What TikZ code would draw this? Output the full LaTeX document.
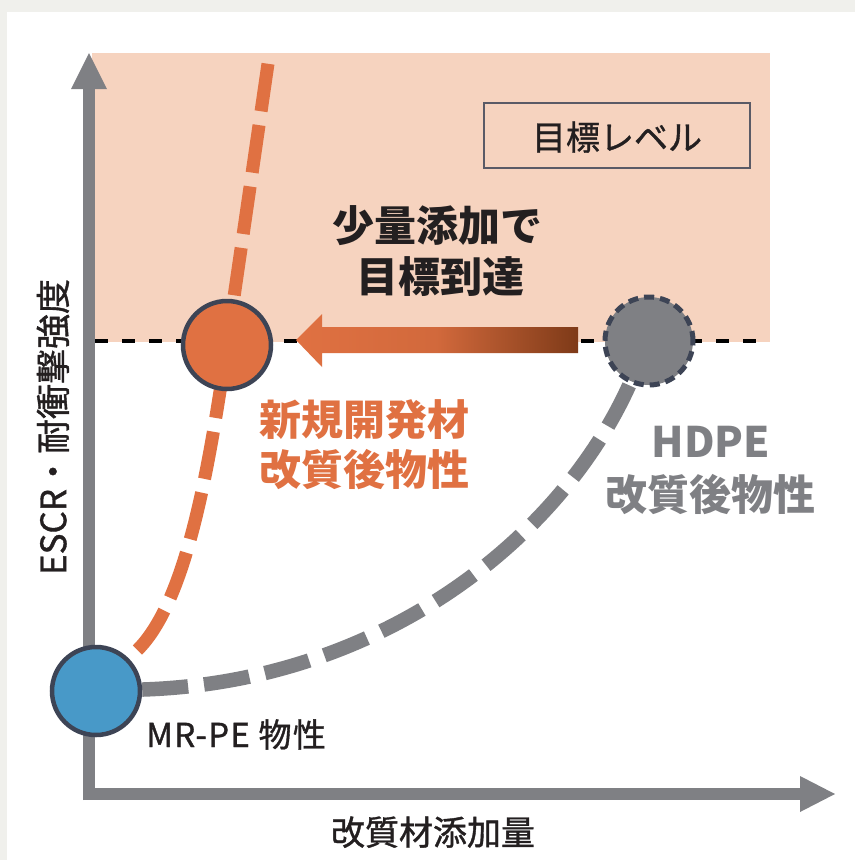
\documentclass[tikz,border=0pt]{standalone}
\usepackage{fontspec}
\setmainfont{Noto Sans CJK JP}
\newfontfamily\medfont{Noto Sans CJK JP}[FakeBold=1.1]
\newfontfamily\medspfont{Noto Sans CJK JP}[FakeBold=1.1, LetterSpace=4]
\usetikzlibrary{shadings}
\pgfdeclarelayer{back}
\pgfdeclarelayer{mid}
\pgfsetlayers{back,mid,main}
\definecolor{outerbg}{HTML}{F0F0EC}
\definecolor{pinkbg}{HTML}{F6D3BF}
\definecolor{axisgray}{HTML}{7F8084}
\definecolor{darkedge}{HTML}{3D4455}
\definecolor{orangec}{HTML}{E07142}
\definecolor{brownc}{HTML}{7E3A18}
\definecolor{bluec}{HTML}{4899C8}
\definecolor{textdark}{HTML}{231F20}
\definecolor{boxedge}{HTML}{5A5A66}
\tikzset{
  dot/.style={circle, minimum size=88pt, inner sep=0pt, line width=4.5pt, draw=darkedge},
  lbl/.style={inner sep=0pt, anchor=base},
  bigbold/.style={lbl, font=\fontsize{42}{50}\selectfont\bfseries},
  axisline/.style={draw=axisgray, line width=12pt},
  orangecurve/.style={draw=orangec, line width=13pt, dash pattern=on 48pt off 14pt},
  graycurve/.style={draw=axisgray, line width=14.5pt, dash pattern=on 46pt off 16pt},
}
\begin{document}
\begin{tikzpicture}[x=1pt,y=-1pt]
\useasboundingbox (0,0) rectangle (855,860);
\begin{pgfonlayer}{back}
\fill[outerbg] (0,0) rectangle (855,860);
\fill[white] (7,12) rectangle (855,860);
\fill[pinkbg] (92,53) rectangle (770,342);
\coordinate (lvlL) at (95,341);
\coordinate (lvlR) at (770,341);
\draw[black, line width=3.5pt, dash pattern=on 13pt off 14pt] (lvlL) -- (lvlR);
\coordinate (ytip) at (89,53);
\coordinate (xtip) at (835,794);
\draw[axisline] (89,800) -- (89,88);
\draw[axisline] (83,794) -- (801,794);
\fill[axisgray] (71,89) -- (107,89) -- (ytip) -- cycle;
\fill[axisgray] (800,776) -- (800,812) -- (xtip) -- cycle;
\end{pgfonlayer}
% points
\node[dot, fill=bluec] (mrpe) at (96,691) {};
\node[dot, fill=orangec] (newmat) at (227,345) {};
\node[dot, fill=axisgray, line width=5pt, dash pattern=on 10pt off 6pt] (hdpe) at (649,341) {};
\coordinate (otop) at (270,50);
\begin{pgfonlayer}{mid}
\path[orangecurve, shorten <=12pt] (mrpe) .. controls (188,600) and (210,460) .. (newmat.center) -- (otop);
\path[graycurve] (mrpe) .. controls (380,682) and (560,540) .. (hdpe);
\end{pgfonlayer}
% arrow
\coordinate (arrE) at (296,340);
\shade[left color=orangec, right color=brownc, middle color=orangec!85!brownc]
  (578,327) -- (322,327) -- (322,314) -- (arrE) -- (322,367) -- (322,353) -- (578,353) -- cycle;
% target label box
\node[draw=boxedge, line width=1.5pt, minimum width=266pt, minimum height=65pt, inner sep=0pt] (lvlbox) at (617,135.5) {};
\node[lbl, font=\fontsize{34}{40}\medfont, text=textdark] (lvltxt) at (617,150) {目標レベル};
% texts
\node[bigbold, text=textdark] (msg1) at (437,241) {少量添加で};
\node[bigbold, text=textdark] (msg2) at (440,292) {目標到達};
\node[bigbold, text=orangec, anchor=base west] (new1) at (259,435) {新規開発材};
\node[bigbold, text=orangec, anchor=base west] (new2) at (259,485) {改質後物性};
\node[bigbold, text=axisgray] (hd1) at (711,457) {HDPE};
\node[bigbold, text=axisgray] (hd2) at (710,510) {改質後物性};
\node[lbl, anchor=base west, font=\fontsize{33}{38}\medspfont, text=textdark] (mrlbl) at (146,747) {MR-PE 物性};
\node[lbl, font=\fontsize{34}{40}\medfont, text=textdark] (xlbl) at (433,845) {改質材添加量};
\node[inner sep=0pt, rotate=90, font=\fontsize{35}{40}\medfont, text=textdark] (ylbl) at (53,427) {ESCR・耐衝撃強度};
\end{tikzpicture}
\end{document}
